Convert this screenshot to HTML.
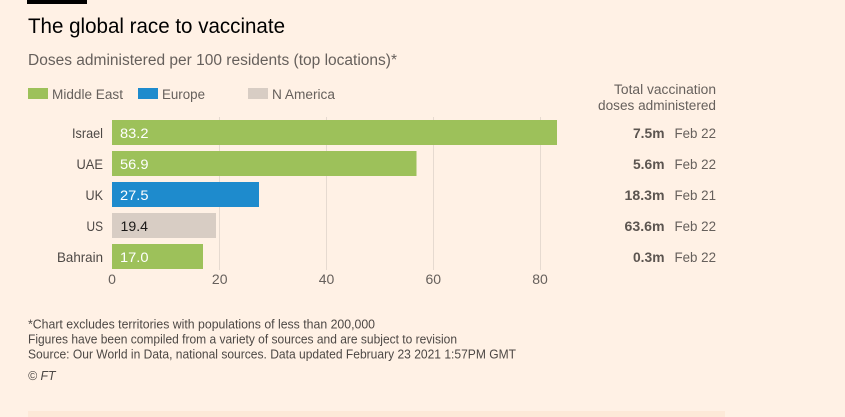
<!DOCTYPE html>
<html>
<head>
<meta charset="utf-8">
<style>
  html, body { margin:0; padding:0; background:#fff1e5; }
  body { width:845px; height:417px; overflow:hidden; }
  svg { display:block; }
  text { font-family: "Liberation Sans", "DejaVu Sans", sans-serif; }
</style>
</head>
<body>
<svg width="845" height="417" viewBox="0 0 845 417" xmlns="http://www.w3.org/2000/svg">
  <rect x="0" y="0" width="845" height="417" fill="#fff1e5"/>
  <!-- top black bar -->
  <rect x="27" y="0" width="60" height="4" fill="#000"/>

  <!-- title -->
  <text x="28" y="33" font-size="21" fill="#000" textLength="257" lengthAdjust="spacingAndGlyphs">The global race to vaccinate</text>
  <!-- subtitle -->
  <text x="28" y="65" font-size="15.5" fill="#66605c" textLength="369" lengthAdjust="spacingAndGlyphs">Doses administered per 100 residents (top locations)*</text>

  <!-- legend -->
  <rect x="28" y="88" width="20" height="11" fill="#9dc15a"/>
  <text x="52" y="99" font-size="13.5" fill="#66605c" textLength="71" lengthAdjust="spacingAndGlyphs">Middle East</text>
  <rect x="138" y="88" width="20" height="11" fill="#1e8bcd"/>
  <text x="162" y="99" font-size="13.5" fill="#66605c" textLength="43" lengthAdjust="spacingAndGlyphs">Europe</text>
  <rect x="248" y="88" width="20" height="11" fill="#d8cdc4"/>
  <text x="272" y="99" font-size="13.5" fill="#66605c" textLength="63" lengthAdjust="spacingAndGlyphs">N America</text>

  <!-- right header -->
  <text x="716" y="94" font-size="13.5" fill="#66605c" text-anchor="end" textLength="102" lengthAdjust="spacingAndGlyphs">Total vaccination</text>
  <text x="716" y="110" font-size="13.5" fill="#66605c" text-anchor="end" textLength="118" lengthAdjust="spacingAndGlyphs">doses administered</text>

  <!-- gridlines -->
  <g stroke="#e6dad0" stroke-width="1">
    <line x1="219.5" y1="117" x2="219.5" y2="270"/>
    <line x1="326.5" y1="117" x2="326.5" y2="270"/>
    <line x1="433.5" y1="117" x2="433.5" y2="270"/>
    <line x1="540.5" y1="117" x2="540.5" y2="270"/>
  </g>

  <!-- bars -->
  <rect x="112" y="120" width="445" height="25" fill="#9dc15a"/>
  <rect x="112" y="151" width="304.5" height="25" fill="#9dc15a"/>
  <rect x="112" y="182" width="147" height="25" fill="#1e8bcd"/>
  <rect x="112" y="213" width="104" height="25" fill="#d8cdc4"/>
  <rect x="112" y="244" width="91" height="25" fill="#9dc15a"/>

  <!-- category labels -->
  <g font-size="14" fill="#4d4845" text-anchor="end">
    <text x="103" y="138" textLength="31" lengthAdjust="spacingAndGlyphs">Israel</text>
    <text x="103" y="169" textLength="26.5" lengthAdjust="spacingAndGlyphs">UAE</text>
    <text x="103" y="200" textLength="17.5" lengthAdjust="spacingAndGlyphs">UK</text>
    <text x="103" y="231" textLength="16.5" lengthAdjust="spacingAndGlyphs">US</text>
    <text x="103" y="262" textLength="46" lengthAdjust="spacingAndGlyphs">Bahrain</text>
  </g>

  <!-- values -->
  <g font-size="14">
    <text x="120" y="138" fill="#ffffff" textLength="28.5" lengthAdjust="spacingAndGlyphs">83.2</text>
    <text x="120" y="169" fill="#ffffff" textLength="28.5" lengthAdjust="spacingAndGlyphs">56.9</text>
    <text x="120" y="200" fill="#ffffff" textLength="28.5" lengthAdjust="spacingAndGlyphs">27.5</text>
    <text x="120.5" y="231" fill="#1a1817" textLength="27.5" lengthAdjust="spacingAndGlyphs">19.4</text>
    <text x="120" y="262" fill="#ffffff" textLength="28.5" lengthAdjust="spacingAndGlyphs">17.0</text>
  </g>

  <!-- x tick labels -->
  <g font-size="14" fill="#66605c" text-anchor="middle">
    <text x="112" y="284">0</text>
    <text x="219.7" y="284">20</text>
    <text x="326.5" y="284">40</text>
    <text x="433.3" y="284">60</text>
    <text x="540" y="284">80</text>
  </g>

  <!-- right column values -->
  <g font-size="13.5">
    <text x="664.5" y="138" fill="#5c5550" font-weight="bold" text-anchor="end" textLength="31.5" lengthAdjust="spacingAndGlyphs">7.5m</text>
    <text x="674.5" y="138" fill="#66605c" textLength="41.5" lengthAdjust="spacingAndGlyphs">Feb 22</text>
    <text x="664.5" y="169" fill="#5c5550" font-weight="bold" text-anchor="end" textLength="31.5" lengthAdjust="spacingAndGlyphs">5.6m</text>
    <text x="674.5" y="169" fill="#66605c" textLength="41.5" lengthAdjust="spacingAndGlyphs">Feb 22</text>
    <text x="664.5" y="200" fill="#5c5550" font-weight="bold" text-anchor="end" textLength="40" lengthAdjust="spacingAndGlyphs">18.3m</text>
    <text x="674.5" y="200" fill="#66605c" textLength="41.5" lengthAdjust="spacingAndGlyphs">Feb 21</text>
    <text x="664.5" y="231" fill="#5c5550" font-weight="bold" text-anchor="end" textLength="40" lengthAdjust="spacingAndGlyphs">63.6m</text>
    <text x="674.5" y="231" fill="#66605c" textLength="41.5" lengthAdjust="spacingAndGlyphs">Feb 22</text>
    <text x="664.5" y="262" fill="#5c5550" font-weight="bold" text-anchor="end" textLength="31.5" lengthAdjust="spacingAndGlyphs">0.3m</text>
    <text x="674.5" y="262" fill="#66605c" textLength="41.5" lengthAdjust="spacingAndGlyphs">Feb 22</text>
  </g>

  <!-- footnotes -->
  <g font-size="13" fill="#4d4845">
    <text x="28" y="328.5" textLength="347" lengthAdjust="spacingAndGlyphs">*Chart excludes territories with populations of less than 200,000</text>
    <text x="28" y="343.5" textLength="429" lengthAdjust="spacingAndGlyphs">Figures have been compiled from a variety of sources and are subject to revision</text>
    <text x="28" y="358.5" textLength="488" lengthAdjust="spacingAndGlyphs">Source: Our World in Data, national sources. Data updated February 23 2021 1:57PM GMT</text>
    <text x="28" y="380" font-style="italic" textLength="27.5" lengthAdjust="spacingAndGlyphs">© FT</text>
  </g>

  <!-- bottom strip -->
  <rect x="28" y="411" width="697" height="6" fill="#fde9d8"/>
</svg>
</body>
</html>
